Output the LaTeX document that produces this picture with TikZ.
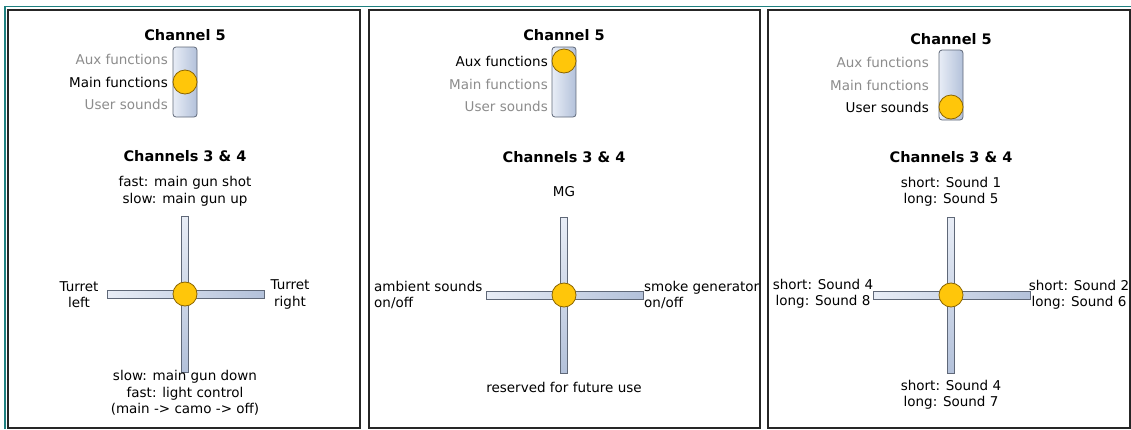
\documentclass[tikz,border=0pt]{standalone}
\usepackage{fontspec}
\setmainfont{DejaVu Sans}
\definecolor{knob}{HTML}{FFC60A}
\definecolor{knobline}{HTML}{8A6400}
\definecolor{barlight}{HTML}{E8EDF6}
\definecolor{bardark}{HTML}{B3C1DA}
\definecolor{barline}{HTML}{5F6878}
\definecolor{offtext}{HTML}{8C8C8C}
\definecolor{screen}{HTML}{1F8080}
\tikzset{
  lbl/.style={font=\fontsize{13.5}{16.5}\selectfont, inner sep=0pt, align=center},
  ttl/.style={font=\fontsize{14.5}{17}\selectfont\bfseries, inner sep=0pt},
  knobdot/.style={circle, draw=knobline, fill=knob, line width=0.8pt, minimum size=24pt, inner sep=0pt},
  frame/.style={draw=black!85, line width=2pt},
  slot/.style={draw=barline, line width=0.8pt, rounded corners=3pt, left color=barlight, right color=bardark},
  hbar/.style={draw=barline, line width=0.8pt, left color=barlight, right color=bardark},
  vbar/.style={draw=barline, line width=0.8pt, top color=barlight, bottom color=bardark},
}

\begin{document}
\begin{tikzpicture}[x=1pt,y=-1pt]
    \useasboundingbox (0,0) rectangle (1131,429);
    \draw[screen, line width=1.8pt] (5,429) -- (5,6.5) -- (1131,6.5);
    \foreach \a/\b in {7.5/360,369/760,768/1130}
    \draw[frame] (\a,10) rectangle (\b,428);

    % main functions
    \begin{scope}[xshift=185pt]
    \node[ttl] (ch5a) at (0,35) {Channel 5};
    \draw[slot] (-12,47) rectangle (12,117);
    \node[lbl, anchor=east, text=offtext] (auxa) at (-17,59) {Aux functions};
    \node[lbl, anchor=east] (maina) at (-17,82) {Main functions};
    \node[lbl, anchor=east, text=offtext] (usera) at (-17,104) {User sounds};
    \node[knobdot] (knoba) at (0,82) {};
    \node[ttl] (ch34a) at (0,156) {Channels 3 \& 4};
    \node[lbl] (upa) at (0,191.5) {fast: main gun shot\\slow: main gun up};
    \draw[vbar] (-3.5,216) rectangle (3.5,372);
    \draw[hbar] (-78,290) rectangle (79,298);
    \node[knobdot] (sticka) at (0,294) {};
    \node[lbl] (lefta) at (-106,294.5) {Turret\\left};
    \node[lbl] (righta) at (105,294.5) {Turret\\right};
    \node[lbl] (downa) at (0,393) {slow: main gun down\\fast: light control\\(main -> camo -> off)};
    \end{scope}

    % aux functions
    \begin{scope}[xshift=564pt]
    \node[ttl] (ch5b) at (0,35) {Channel 5};
    \draw[slot] (-12,47) rectangle (12,117);
    \node[lbl, anchor=east] (auxb) at (-16,61) {Aux functions};
    \node[lbl, anchor=east, text=offtext] (mainb) at (-16,84) {Main functions};
    \node[lbl, anchor=east, text=offtext] (userb) at (-16,106) {User sounds};
    \node[knobdot] (knobb) at (0,61) {};
    \node[ttl] (ch34b) at (0,157) {Channels 3 \& 4};
    \node[lbl] (upb) at (0,192) {MG};
    \draw[vbar] (-3.5,217) rectangle (3.5,373);
    \draw[hbar] (-78,291) rectangle (79,299);
    \node[knobdot] (stickb) at (0,295) {};
    \node[lbl, anchor=west, align=left] (leftb) at (-190,295) {ambient sounds\\on/off};
    \node[lbl, anchor=west, align=left] (rightb) at (80,295) {smoke generator\\on/off};
    \node[lbl] (downb) at (0,387) {reserved for future use};
    \end{scope}

    % user sounds
    \begin{scope}[xshift=951pt]
    \node[ttl] (ch5c) at (0,39) {Channel 5};
    \draw[slot] (-12,50) rectangle (12,120);
    \node[lbl, anchor=east, text=offtext] (auxc) at (-22,62) {Aux functions};
    \node[lbl, anchor=east, text=offtext] (mainc) at (-22,85) {Main functions};
    \node[lbl, anchor=east] (userc) at (-22,107) {User sounds};
    \node[knobdot] (knobc) at (0,107) {};
    \node[ttl] (ch34c) at (0,157) {Channels 3 \& 4};
    \node[lbl] (upc) at (0,192) {short: Sound 1\\long: Sound 5};
    \draw[vbar] (-3.5,217) rectangle (3.5,373);
    \draw[hbar] (-78,291) rectangle (79,299);
    \node[knobdot] (stickc) at (0,295) {};
    \node[lbl] (leftc) at (-128,294) {short: Sound 4\\long: Sound 8};
    \node[lbl] (rightc) at (128,295) {short: Sound 2\\long: Sound 6};
    \node[lbl] (downc) at (0,395) {short: Sound 4\\long: Sound 7};
    \end{scope}
  \end{tikzpicture}
\end{document}
